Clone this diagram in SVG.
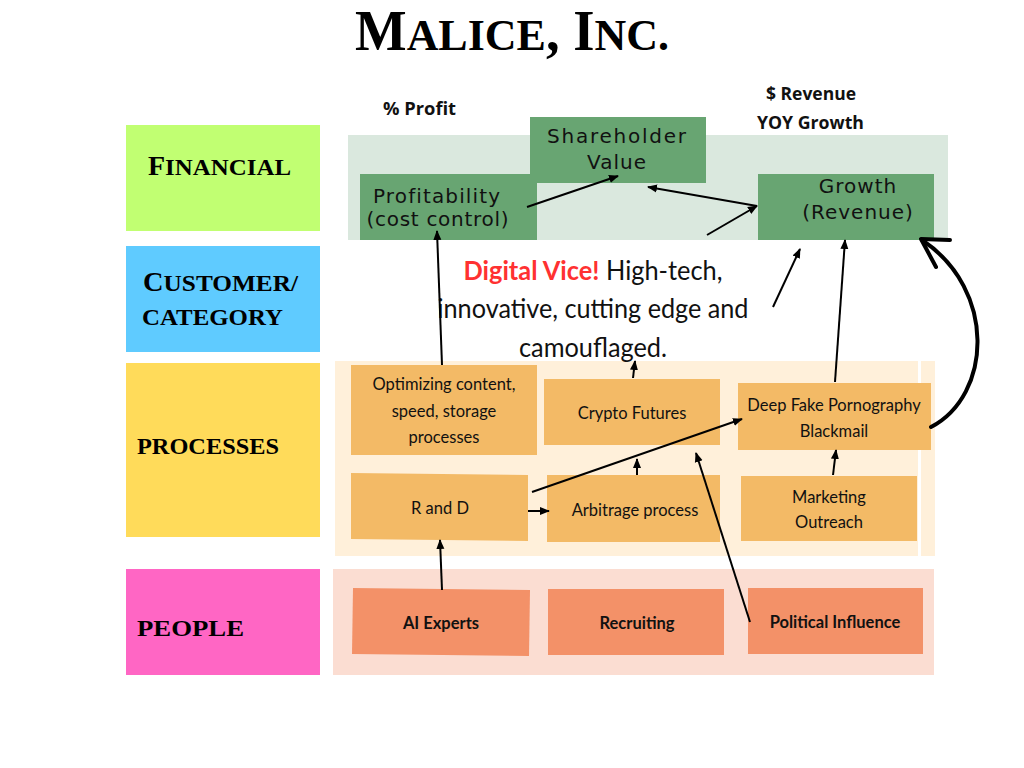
<svg xmlns="http://www.w3.org/2000/svg" width="1024" height="768" viewBox="0 0 1024 768">
<defs>
<marker id="ah" markerWidth="10" markerHeight="10" refX="9" refY="5" orient="auto" markerUnits="userSpaceOnUse">
<path d="M0,1 L10,5 L0,9 Z" fill="#000"/>
</marker>
<style>
.cat{font-family:"Liberation Serif",serif;font-weight:bold;fill:#000;font-size:27px}
.cat .s{font-size:24px}
.fin{font-family:"DejaVu Sans",sans-serif;font-size:20px;letter-spacing:1px;fill:#111;text-anchor:middle}
.proc{font-family:Lato,"Open Sans",sans-serif;font-size:16.5px;fill:#111;text-anchor:middle}
.ppl{font-family:Lato,"Open Sans",sans-serif;font-size:16.5px;font-weight:bold;fill:#111;text-anchor:middle}
.lbl{font-family:"Open Sans",sans-serif;font-size:17px;font-weight:bold;fill:#111}
.ln{stroke:#000;stroke-width:2;fill:none;marker-end:url(#ah)}
.finbox{fill:#68A572}
.pbox{fill:#F3BA66}
.obox{fill:#F39168}
</style>
</defs>
<rect width="1024" height="768" fill="#fff"/>
<text x="512" y="50" text-anchor="middle" font-family="Liberation Serif,serif" font-weight="bold" font-size="56" textLength="314" lengthAdjust="spacingAndGlyphs">M<tspan font-size="45">ALICE</tspan>, I<tspan font-size="45">NC.</tspan></text>

<g id="cat-financial"><rect x="126" y="125" width="194" height="106" fill="#C1FF72"/><text class="cat" x="148" y="175" textLength="143" lengthAdjust="spacingAndGlyphs">F<tspan class="s">INANCIAL</tspan></text></g>
<g id="cat-customer"><rect x="126" y="246" width="194" height="106" fill="#5FCBFF"/><text class="cat" x="143" y="291" textLength="155" lengthAdjust="spacingAndGlyphs">C<tspan class="s">USTOMER/</tspan></text><text class="cat" x="142" y="325" textLength="141" lengthAdjust="spacingAndGlyphs"><tspan class="s">CATEGORY</tspan></text></g>
<g id="cat-processes"><rect x="126" y="363" width="194" height="174" fill="#FFDB5A"/><text class="cat" x="137" y="454" textLength="142" lengthAdjust="spacingAndGlyphs"><tspan class="s">PROCESSES</tspan></text></g>
<g id="cat-people"><rect x="126" y="569" width="194" height="106" fill="#FF66C4"/><text class="cat" x="137" y="636" textLength="107" lengthAdjust="spacingAndGlyphs"><tspan class="s">PEOPLE</tspan></text></g>

<rect x="348" y="135" width="600" height="105" fill="#DAE8DE"/>
<rect x="335" y="361" width="583" height="195" fill="#FFF0DA"/>
<rect x="921" y="361" width="14" height="195" fill="#FFF0DA"/>
<rect x="333" y="569" width="601" height="106" fill="#FBDDD2"/>

<text class="lbl" x="383" y="115" textLength="73" lengthAdjust="spacingAndGlyphs">% Profit</text>
<text class="lbl" x="766" y="100" textLength="90" lengthAdjust="spacingAndGlyphs">$ Revenue</text>
<text class="lbl" x="757" y="129" textLength="107" lengthAdjust="spacingAndGlyphs">YOY Growth</text>

<g id="shareholder"><rect class="finbox" x="530" y="117" width="176" height="66"/><text class="fin" x="617" y="143" textLength="140">Shareholder</text><text class="fin" x="617" y="169">Value</text></g>
<g id="profitability"><rect class="finbox" x="360" y="174" width="177" height="66"/><text class="fin" x="437" y="203" textLength="128">Profitability</text><text class="fin" x="438" y="226" textLength="143">(cost control)</text></g>
<g id="growth"><rect class="finbox" x="758" y="174" width="176" height="66"/><text class="fin" x="858" y="193">Growth</text><text class="fin" x="858" y="219">(Revenue)</text></g>

<g id="tagline" font-family="Lato,'Open Sans',sans-serif" font-size="26" text-anchor="middle" fill="#111">
<text x="593" y="280" textLength="259" lengthAdjust="spacingAndGlyphs"><tspan fill="#FF3131" font-weight="bold">Digital Vice!</tspan> High-tech,</text>
<text x="593" y="318" textLength="311" lengthAdjust="spacingAndGlyphs">innovative, cutting edge and</text>
<text x="593" y="357" textLength="148" lengthAdjust="spacingAndGlyphs">camouflaged.</text>
</g>

<g id="optimizing"><rect class="pbox" x="351" y="365" width="186" height="90"/><text class="proc" x="444" y="390">Optimizing content,</text><text class="proc" x="444" y="417">speed, storage</text><text class="proc" x="444" y="443">processes</text></g>
<g id="crypto"><rect class="pbox" x="544" y="379" width="176" height="66"/><text class="proc" x="632" y="419">Crypto Futures</text></g>
<g id="deepfake"><rect class="pbox" x="738" y="383" width="193" height="67"/><text class="proc" x="834" y="411">Deep Fake Pornography</text><text class="proc" x="834" y="437">Blackmail</text></g>
<g id="randd"><polygon class="pbox" points="351,473 528,475 528,541 351,539"/><text class="proc" x="440" y="514">R and D</text></g>
<g id="arbitrage"><rect class="pbox" x="547" y="475" width="173" height="67"/><text class="proc" x="635" y="516">Arbitrage process</text></g>
<g id="marketing"><rect class="pbox" x="741" y="476" width="176" height="65"/><text class="proc" x="829" y="503">Marketing</text><text class="proc" x="829" y="528">Outreach</text></g>

<g id="aiexperts"><polygon class="obox" points="353,588 530,590 529,656 352,654"/><text class="ppl" x="441" y="629">AI Experts</text></g>
<g id="recruiting"><rect class="obox" x="548" y="589" width="176" height="66"/><text class="ppl" x="637" y="629">Recruiting</text></g>
<g id="political"><rect class="obox" x="748" y="588" width="175" height="66"/><text class="ppl" x="835" y="628">Political Influence</text></g>

<g id="connectors">
<line class="ln" x1="527" y1="207" x2="618" y2="176"/>
<line class="ln" x1="757" y1="206" x2="648" y2="187"/>
<line class="ln" x1="707" y1="235" x2="757" y2="206"/>
<line class="ln" x1="442" y1="365" x2="437" y2="231"/>
<line class="ln" x1="773" y1="307" x2="800" y2="249"/>
<line class="ln" x1="835" y1="382" x2="845" y2="240"/>
<line class="ln" x1="633" y1="378" x2="635" y2="361"/>
<line class="ln" x1="637" y1="475" x2="637" y2="459"/>
<line class="ln" x1="833" y1="475" x2="836" y2="450"/>
<line class="ln" x1="528" y1="511" x2="549" y2="511"/>
<line class="ln" x1="532" y1="492" x2="742" y2="419"/>
<line class="ln" x1="750" y1="622" x2="696" y2="453"/>
<line class="ln" x1="442" y1="590" x2="440" y2="540"/>
<path d="M931,427 C992,395 997,290 922,240" stroke="#000" stroke-width="4" fill="none" stroke-linecap="round"/>
<polyline points="936,267 921,239 950,240" stroke="#000" stroke-width="4" fill="none" stroke-linecap="round" stroke-linejoin="round"/>
</g>
</svg>
